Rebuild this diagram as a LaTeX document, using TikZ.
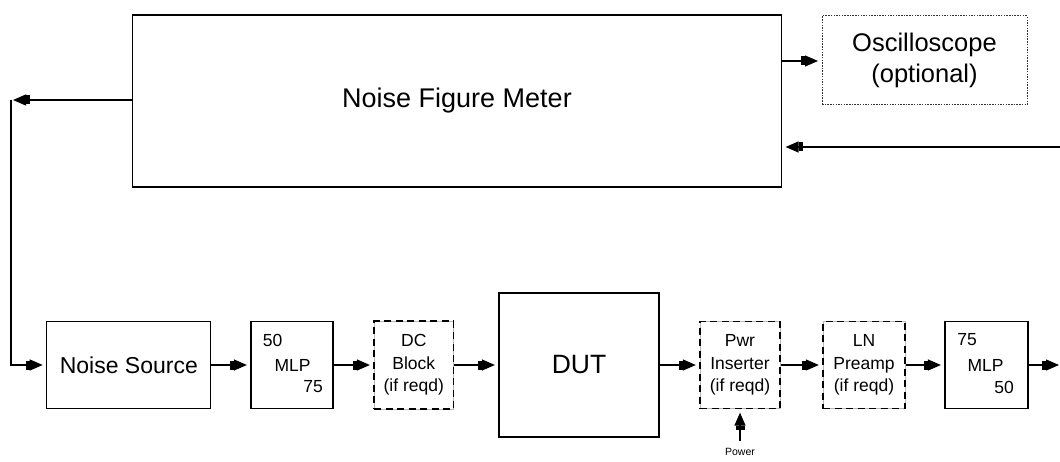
\documentclass[tikz,border=0pt]{standalone}
\usepackage{fontspec}
\setmainfont{Liberation Sans}
\usetikzlibrary{arrows.meta}
\begin{document}
\begin{tikzpicture}[x=1pt,y=-1pt,
  line width=1.2pt,
  box/.style={draw=black, line width=1.2pt, inner sep=0pt, align=center},
  dbox/.style={draw=black, line width=1.3pt, dash pattern=on 7pt off 4.5pt, inner sep=0pt, align=center,
    preaction={draw=gray!55, line width=0.6pt, solid}},
  obox/.style={draw=black!80, line width=1pt, dash pattern=on 1.5pt off 1.2pt, inner sep=0pt, align=center},
  small/.style={font=\fontsize{17.5}{22.5}\selectfont},
  lbl/.style={inner sep=0pt, font=\fontsize{17.5}{20}\selectfont},
  arr/.style={-{Rectangle[length=4pt,width=9pt,sep=0pt]Triangle[length=13pt,width=11pt]}, shorten >=3.5pt},
]
\useasboundingbox (0,0) rectangle (1060,462);

% top
\node[box, minimum width=649pt, minimum height=172pt, font=\fontsize{27}{32}\selectfont] (nfm) at (457,101) {Noise Figure Meter};
\node[obox, minimum width=205pt, minimum height=89pt, font=\fontsize{25.5}{31}\selectfont] (osc) at (924.5,60.5) {Oscilloscope\\(optional)};

% chain
\node[box, minimum width=164pt, minimum height=87.5pt, font=\fontsize{23}{28}\selectfont] (ns) at (128.8,365) {Noise Source};
\node[box, minimum width=82pt, minimum height=87.5pt] (mlpa) at (292,365) {};
\node[lbl] (mlpa1) at (272.5,340) {50};
\node[lbl] (mlpa2) at (292.5,365) {MLP};
\node[lbl] (mlpa3) at (313,387) {75};
\node[dbox, small, minimum width=79.5pt, minimum height=88pt] (dc) at (413.8,365) {DC\\Block\\(if reqd)};
\node[box, minimum width=160pt, minimum height=144pt, font=\fontsize{26.5}{30}\selectfont] (dut) at (579,365) {DUT};
\node[dbox, small, minimum width=80pt, minimum height=87pt] (pwr) at (740,365) {Pwr\\Inserter\\(if reqd)};
\node[dbox, small, minimum width=82pt, minimum height=87pt] (ln) at (864,365) {LN\\Preamp\\(if reqd)};
\node[box, minimum width=83pt, minimum height=87.5pt] (mlpb) at (986.5,365) {};
\node[lbl] (mlpb1) at (967,340) {75};
\node[lbl] (mlpb2) at (985.5,365) {MLP};
\node[lbl] (mlpb3) at (1004,387) {50};
\node[inner sep=0pt, font=\fontsize{10.5}{12}\selectfont] (powr) at (740,452) {Power};

% free ends
\coordinate (cl) at (11,100);
\coordinate (out) at (1060,365);
\coordinate (ret) at (1060,147);
\coordinate (pin) at (740,441);

% connectors
\draw[arr, shorten >=2pt] (nfm.west |- cl) -- (cl);
\draw[arr] (cl) |- (ns.west);
\draw[arr] (nfm.east |- 0,61) -- (osc.west |- 0,61);
\draw[arr] (ret) -- (nfm.east |- ret);
\draw[arr] (ns) -- (mlpa);
\draw[arr] (mlpa) -- (dc);
\draw[arr] (dc) -- (dut);
\draw[arr] (dut) -- (pwr);
\draw[arr] (pwr) -- (ln);
\draw[arr] (ln) -- (mlpb);
\draw[arr, shorten >=1pt] (mlpb) -- (out);
\draw[arr] (pin) -- (pwr.south);
\end{tikzpicture}
\end{document}
